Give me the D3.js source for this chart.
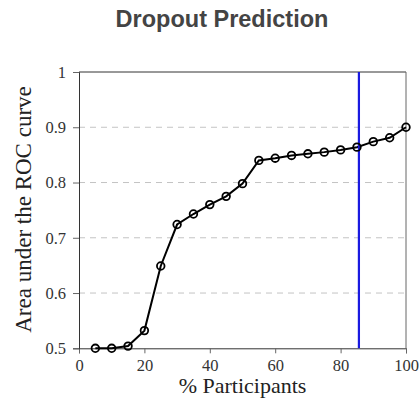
<!DOCTYPE html>
<meta charset="utf-8">
<style>
body { margin: 0; background: #fff; }
.tick text { font-family: "Liberation Serif", "DejaVu Serif", serif; font-size: 16.5px; fill: #333; }
.grid line { stroke: #c4c4c4; stroke-dasharray: 6,5; }
</style>
<svg width="419" height="401"></svg>
<script src="https://d3js.org/d3.v7.min.js"></script>
<script>

// data
var participants = [5, 10, 15, 20, 25, 30, 35, 40, 45, 50, 55, 60, 65, 70, 75, 80, 85, 90, 95, 100];
var auc = [0.500, 0.500, 0.504, 0.532, 0.649, 0.724, 0.743, 0.760, 0.775, 0.798,
           0.840, 0.844, 0.849, 0.852, 0.855, 0.859, 0.864, 0.874, 0.881, 0.900];
var xTicks = [0, 20, 40, 60, 80, 100];
var yTicks = [0.5, 0.6, 0.7, 0.8, 0.9, 1];
var cutoff = 85.6;

var svg = d3.select("svg");
var plotLeft = 79, plotRight = 406, plotTop = 72, plotBottom = 348.3;

var x = d3.scaleLinear().domain([0, 100]).range([plotLeft, plotRight]);
var y = d3.scaleLinear().domain([0.5, 1]).range([plotBottom, plotTop]);

// title
svg.append("text")
    .attr("x", 222).attr("y", 27)
    .attr("text-anchor", "middle")
    .style("font-family", "'Liberation Sans', Arial, sans-serif")
    .style("font-weight", "bold")
    .style("font-size", "23.5px")
    .style("fill", "#444")
    .text("Dropout Prediction");

// grid lines
svg.append("g")
    .attr("class", "grid")
    .selectAll("line")
    .data(yTicks.filter(function(d) { return d > 0.5 && d < 1; }))
    .enter().append("line")
    .attr("x1", plotLeft).attr("x2", plotRight)
    .attr("y1", function(d) { return y(d); })
    .attr("y2", function(d) { return y(d); });

// frame
svg.append("line").attr("x1", plotLeft).attr("x2", plotRight).attr("y1", plotTop).attr("y2", plotTop)
    .attr("stroke", "#333");
svg.append("line").attr("x1", plotRight).attr("x2", plotRight).attr("y1", plotTop).attr("y2", plotBottom)
    .attr("stroke", "#666");

// axes
var xAxis = svg.append("g")
    .attr("transform", "translate(0," + plotBottom + ")")
    .call(d3.axisBottom(x).tickValues(xTicks).tickSize(5).tickPadding(6)
      .tickFormat(d3.format("d")));
var yAxis = svg.append("g")
    .attr("transform", "translate(" + plotLeft + ",0)")
    .call(d3.axisLeft(y).tickValues(yTicks).tickSize(6).tickPadding(7)
      .tickFormat(function(d) { return d === 1 ? "1" : d3.format(".1f")(d); }));
[xAxis, yAxis].forEach(function(a) {
  a.select(".domain").attr("stroke", "#333");
  a.selectAll(".tick line").attr("stroke", "#666");
});

// axis labels
svg.append("text")
    .attr("x", 242.5).attr("y", 393)
    .attr("text-anchor", "middle")
    .style("font-family", "'Liberation Serif', serif")
    .style("font-size", "22px")
    .style("fill", "#222")
    .text("% Participants");
svg.append("text")
    .attr("transform", "translate(30.5,209.5) rotate(-90)")
    .attr("text-anchor", "middle")
    .style("font-family", "'Liberation Serif', serif")
    .style("font-size", "23px")
    .style("fill", "#222")
    .text("Area under the ROC curve");

// line + markers
var data = participants.map(function(p, i) { return { p: p, v: auc[i] }; });
var line = d3.line().x(function(d) { return x(d.p); }).y(function(d) { return y(d.v); });

svg.append("path")
    .datum(data)
    .attr("d", line)
    .attr("fill", "none")
    .attr("stroke", "#000")
    .attr("stroke-width", 2);

// blue cutoff line
svg.append("line")
    .attr("x1", x(cutoff)).attr("x2", x(cutoff))
    .attr("y1", plotTop).attr("y2", plotBottom)
    .attr("stroke", "#1a1ae0")
    .attr("stroke-width", 2.2);

svg.append("g")
    .selectAll("circle")
    .data(data)
    .enter().append("circle")
    .attr("cx", function(d) { return x(d.p); })
    .attr("cy", function(d) { return y(d.v); })
    .attr("r", 3.8)
    .attr("fill", "none")
    .attr("stroke", "#000")
    .attr("stroke-width", 1.8);

</script>
